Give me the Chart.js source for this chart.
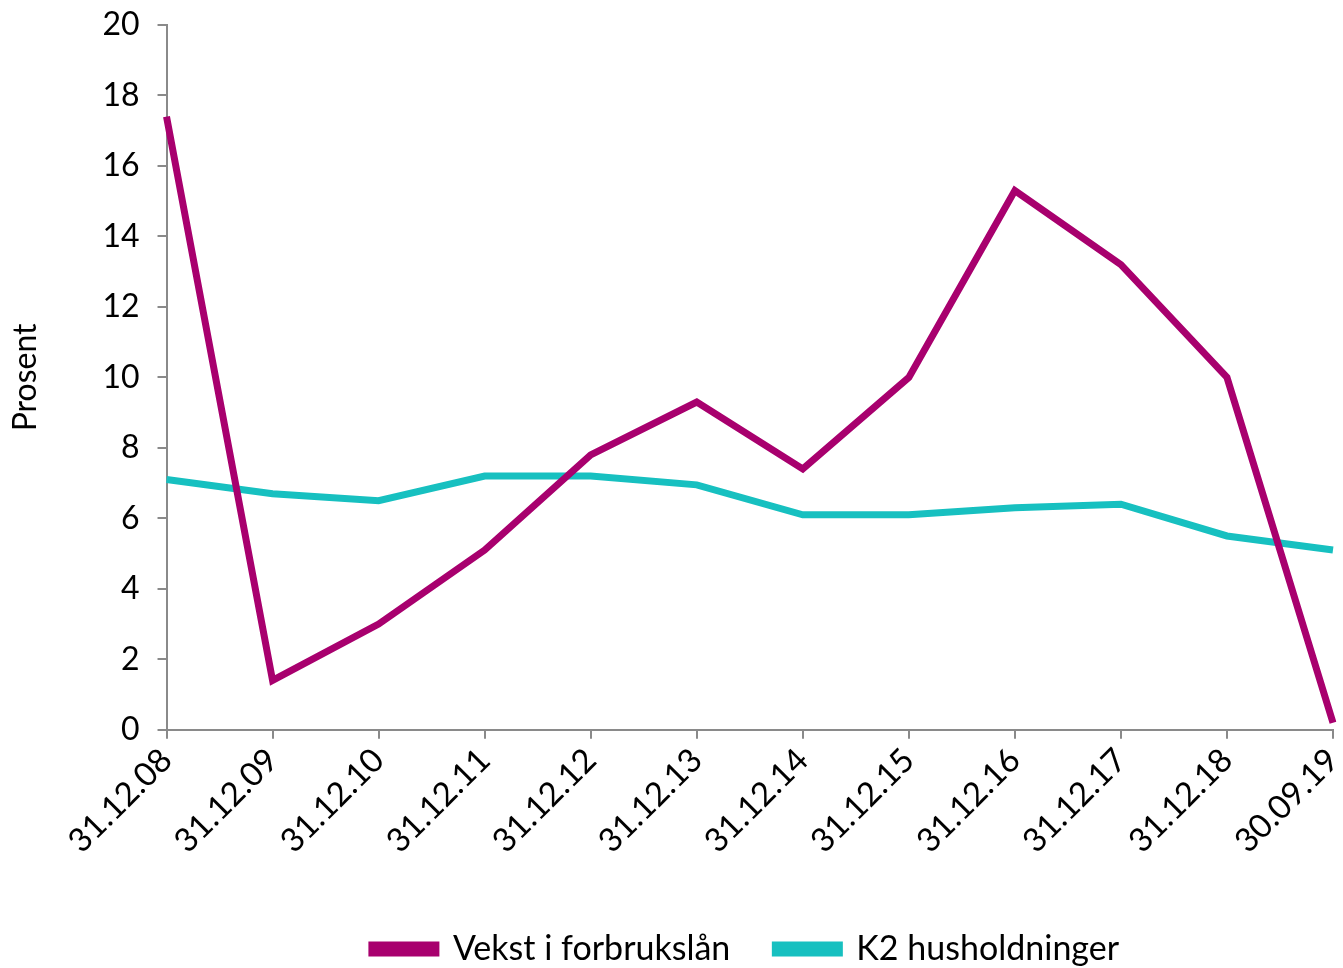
<!DOCTYPE html>
<html>
<head>
<meta charset="utf-8">
<script src="https://cdn.jsdelivr.net/npm/chart.js@4"></script>
<style>
  body { margin: 0; background: #fff; }
</style>
</head>
<body>
<canvas id="chart" width="1343" height="968"></canvas>
<script>
const labels = ['31.12.08', '31.12.09', '31.12.10', '31.12.11', '31.12.12', '31.12.13',
  '31.12.14', '31.12.15', '31.12.16', '31.12.17', '31.12.18', '30.09.19'];
const forbrukslan = [17.4, 1.4, 3.0, 5.1, 7.8, 9.3, 7.4, 10.0, 15.3, 13.2, 10.0, 0.2];
const k2 = [7.1, 6.7, 6.5, 7.2, 7.2, 6.95, 6.1, 6.1, 6.3, 6.4, 5.5, 5.1];

const axisGrey = '#8a8a8a';
const family = 'Lato, "Open Sans", sans-serif';

// nudge the legend to the right so it sits under the plot like the original
const legendShift = {
  id: 'legendShift',
  afterLayout(chart) {
    chart.legend.left += 78;
    chart.legend.right += 78;
    chart.legend.top += 24;
    chart.legend.bottom += 24;
  }
};

const ctx = document.getElementById('chart').getContext('2d');
new Chart(ctx, {
  type: 'line',
  data: {
    labels: labels,
    datasets: [
      {
        label: 'Vekst i forbrukslån',
        data: forbrukslan,
        borderColor: '#a8006e',
        backgroundColor: '#a8006e',
        borderWidth: 7,
        pointRadius: 0,
        tension: 0
      },
      {
        label: 'K2 husholdninger',
        data: k2,
        borderColor: '#17c0c0',
        backgroundColor: '#17c0c0',
        borderWidth: 7,
        pointRadius: 0,
        tension: 0
      }
    ]
  },
  options: {
    responsive: false,
    animation: false,
    layout: { padding: { top: 25, right: 10, left: 2, bottom: 16 } },
    scales: {
      x: {
        offset: false,
        afterFit: (scale) => { scale.paddingRight = 0; },
        grid: { drawOnChartArea: false, drawTicks: true, tickLength: 9, color: axisGrey, lineWidth: 2 },
        border: { color: axisGrey, width: 2 },
        ticks: { color: '#000', font: { family: family, size: 33 }, maxRotation: 45, minRotation: 45, padding: 2 }
      },
      y: {
        min: 0,
        max: 20,
        afterFit: (scale) => { scale.paddingTop = 0; },
        grid: { drawOnChartArea: false, drawTicks: true, tickLength: 9, color: axisGrey, lineWidth: 2 },
        border: { color: axisGrey, width: 2 },
        ticks: { stepSize: 2, color: '#000', font: { family: family, size: 32 }, padding: 18 },
        title: { display: true, text: 'Prosent', color: '#000', font: { family: family, size: 32 }, padding: { bottom: 40 } }
      }
    },
    plugins: {
      legend: {
        position: 'bottom',
        labels: {
          color: '#000',
          font: { family: family, size: 34 },
          boxWidth: 64,
          boxHeight: 8,
          padding: 45
        }
      },
      tooltip: { enabled: false }
    }
  },
  plugins: [legendShift]
});
</script>
</body>
</html>
